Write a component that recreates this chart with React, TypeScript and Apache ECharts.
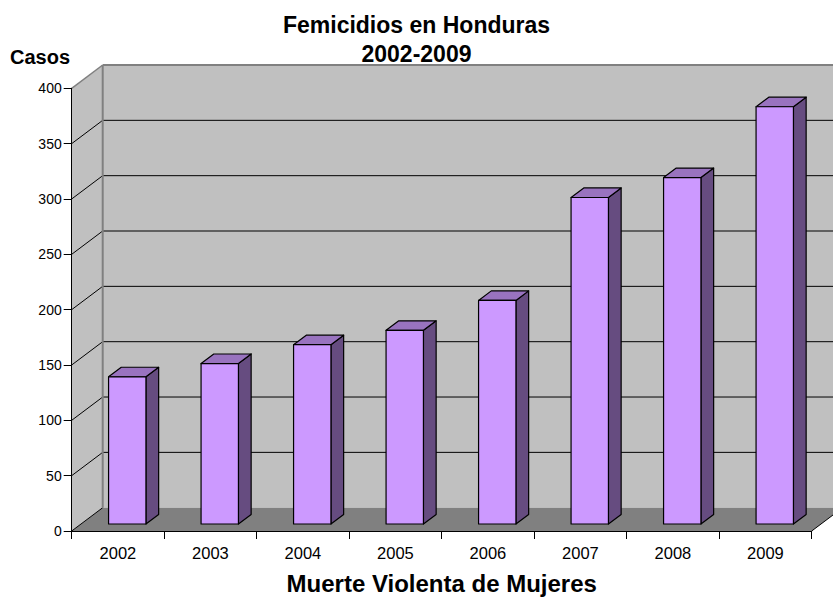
import React, { useEffect, useRef } from "react";
import * as echarts from "echarts";

const YEARS = ["2002", "2003", "2004", "2005", "2006", "2007", "2008", "2009"];
const CASES = [133, 145, 162, 175, 202, 295, 313, 377];
const Y_TICKS = [0, 50, 100, 150, 200, 250, 300, 350, 400];
const TITLE = "Femicidios en Honduras\n2002-2009";
const Y_NAME = "Casos";
const X_NAME = "Muerte Violenta de Mujeres";

const FONT = "'Liberation Sans', Arial, Helvetica, sans-serif";
const DEPTH_X = 31;
const DEPTH_Y = -23.3;

export default function App() {
  const ref = useRef<HTMLDivElement>(null);

  useEffect(() => {
    if (!ref.current) return;
    const chart = echarts.init(ref.current, undefined, { renderer: "svg" });

    const wallsRender = (params: any, api: any) => {
      const cs = params.coordSys;
      const x0 = cs.x;
      const x1 = cs.x + cs.width;
      const yTop = api.coord([0, Y_TICKS[Y_TICKS.length - 1]])[1];
      const yBot = api.coord([0, Y_TICKS[0]])[1];
      const dx = DEPTH_X;
      const dy = DEPTH_Y;
      const children: any[] = [];
      children.push({
        type: "polygon",
        shape: { points: [[x0 + dx, yTop + dy], [x1 + dx, yTop + dy], [x1 + dx, yBot + dy], [x0 + dx, yBot + dy]] },
        style: { fill: "#C0C0C0" },
      });
      children.push({
        type: "polygon",
        shape: { points: [[x0, yTop], [x0 + dx, yTop + dy], [x0 + dx, yBot + dy], [x0, yBot]] },
        style: { fill: "#C0C0C0" },
      });
      children.push({
        type: "polygon",
        shape: { points: [[x0, yBot], [x1, yBot], [x1 + dx, yBot + dy], [x0 + dx, yBot + dy]] },
        style: { fill: "#808080" },
      });
      Y_TICKS.forEach((v, idx) => {
        const y = api.coord([0, v])[1];
        const isTop = idx === Y_TICKS.length - 1;
        const isBottom = idx === 0;
        children.push({
          type: "line",
          shape: { x1: x0, y1: y, x2: x0 + dx, y2: y + dy },
          style: { stroke: isTop ? "#808080" : "#000", lineWidth: isTop ? 1.5 : 1 },
        });
        if (!isBottom) {
          children.push({
            type: "line",
            shape: { x1: x0 + dx, y1: y + dy, x2: x1 + dx, y2: y + dy },
            style: { stroke: isTop ? "#808080" : "#000", lineWidth: isTop ? 2 : 1 },
          });
        }
      });
      children.push({
        type: "line",
        shape: { x1: x0 + dx, y1: yTop + dy, x2: x0 + dx, y2: yBot + dy },
        style: { stroke: "#808080", lineWidth: 2 },
      });
      children.push({
        type: "line",
        shape: { x1: x1, y1: yBot, x2: x1 + dx, y2: yBot + dy },
        style: { stroke: "#000", lineWidth: 1 },
      });
      return { type: "group", children };
    };

    const barsRender = (params: any, api: any) => {
      const i = api.value(0);
      const v = api.value(1);
      const top = api.coord([i, v]);
      const base = api.coord([i, 0]);
      const bw = api.size([1, 0])[0];
      const w = bw * 0.404;
      const fx = DEPTH_X * 0.3;
      const fy = DEPTH_Y * 0.3;
      const ddx = DEPTH_X * 0.41;
      const ddy = DEPTH_Y * 0.41;
      const cx = base[0] + fx;
      const xl = cx - w / 2;
      const xr = cx + w / 2;
      const yb = base[1] + fy;
      const yt = top[1] + fy;
      const stroke = { stroke: "#000", lineWidth: 1.2, lineJoin: "round" };
      return {
        type: "group",
        children: [
          {
            type: "polygon",
            shape: { points: [[xr, yt], [xr + ddx, yt + ddy], [xr + ddx, yb + ddy], [xr, yb]] },
            style: { fill: "#664C80", ...stroke },
          },
          {
            type: "polygon",
            shape: { points: [[xl, yt], [xr, yt], [xr + ddx, yt + ddy], [xl + ddx, yt + ddy]] },
            style: { fill: "#9973BF", ...stroke },
          },
          {
            type: "polygon",
            shape: { points: [[xl, yt], [xr, yt], [xr, yb], [xl, yb]] },
            style: { fill: "#CC99FF", ...stroke },
          },
        ],
      };
    };

    chart.setOption({
      animation: false,
      backgroundColor: "#fff",
      textStyle: { fontFamily: FONT },
      title: {
        text: TITLE,
        left: "center",
        top: 10,
        padding: [0, 0, 0, 7],
        textStyle: { fontFamily: FONT, fontSize: 23, fontWeight: "bold", color: "#000", lineHeight: 29 },
      },
      graphic: [
        {
          type: "text",
          left: 10,
          top: 47,
          style: { text: Y_NAME, fontFamily: FONT, fontSize: 20, fontWeight: "bold", fill: "#000" },
        },
      ],
      grid: { left: 71.7, right: 21.3, top: 88.3, bottom: 65.7, containLabel: false },
      xAxis: {
        type: "category",
        data: YEARS,
        z: 10,
        name: X_NAME,
        nameLocation: "middle",
        nameGap: 40,
        nameTextStyle: { fontFamily: FONT, fontSize: 24, fontWeight: "bold", color: "#000" },
        axisLine: { lineStyle: { color: "#000", width: 1 } },
        axisTick: { show: true, length: 8, alignWithLabel: false, lineStyle: { color: "#000" } },
        axisLabel: { fontFamily: FONT, fontSize: 16.5, color: "#000", margin: 13 },
        splitLine: { show: false },
      },
      yAxis: {
        type: "value",
        min: 0,
        max: 400,
        interval: 50,
        z: 10,
        axisLine: { show: true, lineStyle: { color: "#000", width: 1 } },
        axisTick: { show: true, length: 8, lineStyle: { color: "#000" } },
        axisLabel: { fontFamily: FONT, fontSize: 14, color: "#000", margin: 10 },
        splitLine: { show: false },
      },
      series: [
        {
          type: "custom",
          name: "walls",
          z: 1,
          silent: true,
          data: [[0, 0]],
          encode: { x: 0, y: 1 },
          renderItem: wallsRender,
        },
        {
          type: "custom",
          name: "Femicidios",
          z: 3,
          data: CASES.map((v, i) => [i, v]),
          encode: { x: 0, y: 1 },
          renderItem: barsRender,
        },
      ],
    });

    return () => chart.dispose();
  }, []);

  return (
    <div
      ref={ref}
      style={{ position: "absolute", left: 0, top: 0, width: 833, height: 600 }}
    />
  );
}
